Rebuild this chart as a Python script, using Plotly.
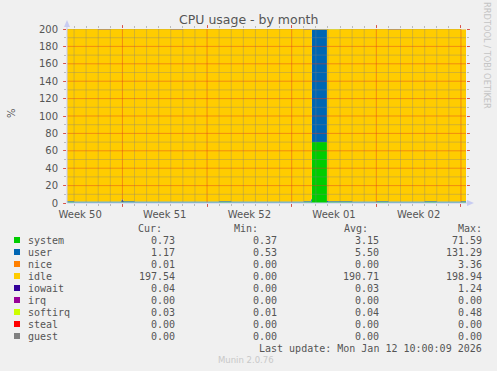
import plotly.graph_objects as go
import pandas as pd

# ---------------- data ----------------
times = [
    "2025-12-10 10:00", "2025-12-11 00:00", "2025-12-12 00:00", "2025-12-13 00:00",
    "2025-12-14 00:00", "2025-12-14 22:00", "2025-12-15 02:00", "2025-12-16 00:00",
    "2025-12-17 00:00", "2025-12-18 00:00", "2025-12-19 00:00", "2025-12-20 00:00",
    "2025-12-21 00:00", "2025-12-22 00:00", "2025-12-23 00:00", "2025-12-24 00:00",
    "2025-12-25 00:00", "2025-12-26 00:00", "2025-12-27 00:00", "2025-12-28 00:00",
    "2025-12-29 00:00", "2025-12-30 00:00", "2025-12-30 14:00", "2025-12-30 16:00",
    "2025-12-31 22:00", "2026-01-01 00:00", "2026-01-02 00:00", "2026-01-03 00:00",
    "2026-01-04 00:00", "2026-01-05 00:00", "2026-01-06 00:00", "2026-01-07 00:00",
    "2026-01-08 00:00", "2026-01-09 00:00", "2026-01-10 00:00", "2026-01-11 00:00",
    "2026-01-12 00:00", "2026-01-12 10:00",
]

system = [0.72, 0.70, 0.68, 0.71, 0.69, 0.95, 0.70, 0.68, 0.66, 0.70, 0.71, 0.67, 0.65,
          0.69, 0.72, 0.70, 0.66, 0.64, 0.63, 0.65, 0.68, 0.74, 1.80, 70.10, 0.90, 0.74,
          0.72, 0.70, 0.69, 0.73, 0.71, 0.70, 0.68, 0.72, 0.70, 0.69, 0.72, 0.73]
user = [1.15, 1.12, 1.10, 1.14, 1.11, 3.20, 1.18, 1.10, 1.08, 1.12, 1.13, 1.09, 1.06,
        1.11, 1.16, 1.12, 1.07, 1.05, 1.04, 1.06, 1.10, 1.20, 2.60, 129.40, 1.50, 1.18,
        1.15, 1.13, 1.12, 1.17, 1.14, 1.13, 1.11, 1.16, 1.13, 1.12, 1.16, 1.17]
nice = [0.00, 0.00, 0.00, 0.00, 0.00, 0.05, 0.00, 0.00, 0.00, 0.00, 0.00, 0.00, 0.00,
        0.00, 0.00, 0.00, 0.00, 0.00, 0.00, 0.00, 0.00, 0.00, 0.20, 0.10, 0.00, 0.00,
        0.00, 0.00, 0.00, 0.00, 0.00, 0.00, 0.00, 0.00, 0.00, 0.00, 0.01, 0.01]
idle = [198.0, 198.1, 198.1, 198.0, 198.1, 195.7, 198.0, 198.1, 198.2, 198.1, 198.0,
        198.2, 198.2, 198.1, 198.0, 198.1, 198.2, 198.2, 198.3, 198.2, 198.1, 197.9,
        195.4, 0.3, 197.5, 197.9, 198.0, 198.1, 198.1, 198.0, 198.0, 198.1, 198.1,
        198.0, 198.1, 198.1, 197.6, 197.5]
iowait = [0.03, 0.03, 0.03, 0.03, 0.03, 1.24, 0.03, 0.03, 0.03, 0.03, 0.03, 0.03, 0.03,
          0.03, 0.03, 0.03, 0.03, 0.03, 0.03, 0.03, 0.03, 0.03, 0.05, 0.02, 0.03, 0.03,
          0.03, 0.03, 0.03, 0.03, 0.03, 0.03, 0.03, 0.03, 0.03, 0.03, 0.04, 0.04]
irq = [0.00] * 38
softirq = [0.04, 0.04, 0.04, 0.04, 0.04, 0.05, 0.04, 0.04, 0.04, 0.04, 0.04, 0.04, 0.04,
           0.04, 0.04, 0.04, 0.04, 0.04, 0.04, 0.04, 0.04, 0.04, 0.06, 0.48, 0.04, 0.04,
           0.04, 0.04, 0.04, 0.04, 0.04, 0.04, 0.04, 0.04, 0.04, 0.04, 0.03, 0.03]
steal = [0.00] * 38
guest = [0.00] * 38

series_names = ["system", "user", "nice", "idle", "iowait", "irq", "softirq", "steal", "guest"]
series_colors = ["#00CC00", "#0066B3", "#FF8000", "#FFCC00", "#330099",
                 "#990099", "#CCFF00", "#FF0000", "#808080"]
series_values = [system, user, nice, idle, iowait, irq, softirq, steal, guest]

cur_vals = [0.73, 1.17, 0.01, 197.54, 0.04, 0.00, 0.03, 0.00, 0.00]
min_vals = [0.37, 0.53, 0.00, 0.00, 0.00, 0.00, 0.01, 0.00, 0.00]
avg_vals = [3.15, 5.50, 0.00, 190.71, 0.03, 0.00, 0.04, 0.00, 0.00]
max_vals = [71.59, 131.29, 3.36, 198.94, 1.24, 0.00, 0.48, 0.00, 0.00]

week_starts = ["2025-12-15", "2025-12-22", "2025-12-29", "2026-01-05", "2026-01-12"]
week_mids = ["2025-12-11 12:00", "2025-12-18 12:00", "2025-12-25 12:00",
             "2026-01-01 12:00", "2026-01-08 12:00"]
week_labels = ["Week 50", "Week 51", "Week 52", "Week 01", "Week 02"]

x_start, x_end = "2025-12-10 10:00", "2026-01-12 10:00"
y_max = 200

title_text = "CPU usage - by month"
y_label = "%"
last_update = "Last update: Mon Jan 12 10:00:09 2026"
munin_ver = "Munin 2.0.76"
rrd_credit = "RRDTOOL / TOBI OETIKER"

# ---------------- layout geometry ----------------
W, H = 497, 371
L, R, T, B = 67, 466, 29, 203


def px(x):
    return (x - L) / (R - L)


def py(y):
    return (B - y) / (B - T)


TEXT = "#555555"
MONO = "DejaVu Sans Mono"
SANS = "DejaVu Sans"
GRID_MINOR = "rgba(130,130,130,0.35)"
GRID_MAJOR = "rgba(225,60,30,0.45)"
AXIS_COL = "#C8CCF2"

fig = go.Figure()

for name, col, vals in zip(series_names, series_colors, series_values):
    fig.add_trace(go.Scatter(
        x=times, y=vals, name=name, mode="lines", stackgroup="cpu",
        line=dict(width=0, shape="hv", color=col), fillcolor=col,
        hoverinfo="skip", showlegend=False,
    ))

# invisible trace anchoring the label axis
fig.add_trace(go.Scatter(x=week_mids, y=[0] * len(week_mids), xaxis="x2",
                         mode="markers", marker=dict(opacity=0), hoverinfo="skip",
                         showlegend=False))

shapes = []
# grid drawn above the areas, as rrdtool does
days = pd.date_range("2025-12-11", "2026-01-12", freq="D")
wk = set(pd.to_datetime(week_starts))
for d in days:
    major = d in wk
    shapes.append(dict(type="line", xref="x", yref="y", x0=d, x1=d, y0=0, y1=y_max,
                       layer="above",
                       line=dict(color=GRID_MAJOR if major else GRID_MINOR, width=1)))
for v in range(10, y_max + 1, 10):
    major = (v % 20 == 0) and v != y_max
    shapes.append(dict(type="line", xref="paper", yref="y", x0=0, x1=1, y0=v, y1=v,
                       layer="above",
                       line=dict(color=GRID_MAJOR if major else GRID_MINOR, width=1)))

# axis arrows
shapes.append(dict(type="path", xref="paper", yref="paper", layer="above",
                   path=f"M {px(64)} {py(27)} L {px(70)} {py(27)} L {px(67)} {py(20)} Z",
                   fillcolor=AXIS_COL, line=dict(width=0)))
shapes.append(dict(type="path", xref="paper", yref="paper", layer="above",
                   path=f"M {px(467)} {py(200)} L {px(467)} {py(206)} L {px(474)} {py(203)} Z",
                   fillcolor=AXIS_COL, line=dict(width=0)))
shapes.append(dict(type="line", xref="paper", yref="paper", layer="above",
                   x0=px(67), x1=px(67), y0=py(203), y1=py(25),
                   line=dict(color=AXIS_COL, width=1)))
shapes.append(dict(type="line", xref="paper", yref="paper", layer="above",
                   x0=px(67), x1=px(470), y0=py(203), y1=py(203),
                   line=dict(color=AXIS_COL, width=1)))

# legend swatches
row_y = [240 + 12 * i for i in range(len(series_names))]
for col, yy in zip(series_colors, row_y):
    shapes.append(dict(type="rect", xref="paper", yref="paper",
                       x0=px(14), x1=px(20), y0=py(yy - 3), y1=py(yy + 3),
                       fillcolor=col, line=dict(width=0)))

ann = []


def text(x, y, s, anchor="left", size=10, family=MONO, color=TEXT, angle=0):
    ann.append(dict(x=px(x), y=py(y), xref="paper", yref="paper", text=s,
                    showarrow=False, xanchor=anchor, yanchor="middle",
                    textangle=angle, font=dict(family=family, size=size, color=color)))


text(248, 19.5, title_text, anchor="center", size=12.5, family=SANS)
text(11, 113, y_label, anchor="center", size=10, family=SANS, angle=-90)
text(487, 55, rrd_credit, anchor="center", size=8.3, family=SANS, color="#C4C4C4", angle=90)

text(164, 228, "Cur:", anchor="right")
text(260, 228, "Min:", anchor="right")
text(370, 228, "Avg:", anchor="right")
text(484, 228, "Max:", anchor="right")
for i, name in enumerate(series_names):
    yy = row_y[i]
    text(26, yy, name)
    text(177, yy, f"{cur_vals[i]:.2f}", anchor="right")
    text(279, yy, f"{min_vals[i]:.2f}", anchor="right")
    text(381, yy, f"{avg_vals[i]:.2f}", anchor="right")
    text(484, yy, f"{max_vals[i]:.2f}", anchor="right")
text(484, 348, last_update, anchor="right")
text(246, 360, munin_ver, anchor="center", size=8.5, family=SANS, color="#C8C8C8")

fig.update_layout(
    width=W, height=H,
    margin=dict(l=L, r=W - R, t=T, b=H - B, pad=0),
    paper_bgcolor="#F0F0F0", plot_bgcolor="#FFFFFF",
    showlegend=False,
    shapes=shapes, annotations=ann,
    xaxis=dict(type="date", range=[x_start, x_end], tickvals=week_starts,
               showticklabels=False, ticks="outside", ticklen=3,
               tickcolor="rgba(220,60,50,0.8)", showgrid=False, zeroline=False,
               showline=False, mirror="ticks",
               minor=dict(dtick=86400000, ticks="outside", ticklen=2,
                          tickcolor="#BBBBBB", showgrid=False)),
    xaxis2=dict(type="date", range=[x_start, x_end], overlaying="x", side="bottom",
                tickvals=week_mids, ticktext=week_labels, ticks="", showgrid=False,
                zeroline=False, showline=False, ticklabelstandoff=4,
                tickfont=dict(family=SANS, size=10, color=TEXT)),
    yaxis=dict(range=[0, y_max], tickvals=list(range(0, y_max + 1, 20)),
               ticks="outside", ticklen=3, tickcolor="rgba(220,60,50,0.8)",
               showgrid=False, zeroline=False, showline=False, mirror="ticks",
               ticklabelstandoff=3,
               tickfont=dict(family=SANS, size=10, color=TEXT),
               minor=dict(dtick=10, ticks="outside", ticklen=2,
                          tickcolor="#BBBBBB", showgrid=False)),
)

fig.write_html("out.html")
